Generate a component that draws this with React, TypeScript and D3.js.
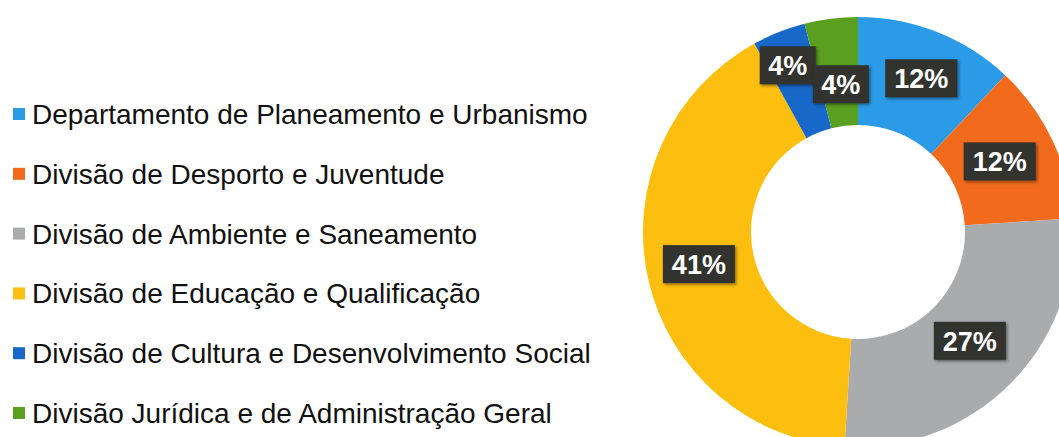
import React from "react";
import * as d3 from "d3";

const categories = [
  "Departamento de Planeamento e Urbanismo",
  "Divisão de Desporto e Juventude",
  "Divisão de Ambiente e Saneamento",
  "Divisão de Educação e Qualificação",
  "Divisão de Cultura e Desenvolvimento Social",
  "Divisão Jurídica e de Administração Geral",
];
const values = [12, 12, 27, 41, 4, 4];
const labels = ["12%", "12%", "27%", "41%", "4%", "4%"];
const colors = ["#2b9be8", "#f26b1d", "#a9abac", "#fdbf0f", "#1768c8", "#5b9f20"];
const labelNudge: [number, number][] = [[4, -4], [-4, -2], [-2, -5], [-2, -3], [-11, -17], [3, 12]];

export default function App() {
  const W = 1059, H = 437;
  const cx = 858, cy = 232, rOut = 215, rIn = 107;
  const pie = d3.pie<number>().sort(null).value((d) => d);
  const arcs = pie(values);
  const arc = d3.arc<d3.PieArcDatum<number>>().innerRadius(rIn).outerRadius(rOut);
  const mid = d3.arc<d3.PieArcDatum<number>>().innerRadius((rIn + rOut) / 2).outerRadius((rIn + rOut) / 2);
  const legendY = d3.scaleLinear().domain([0, categories.length - 1]).range([114, 413]);

  return (
    <svg width={W} height={H} style={{ position: "absolute", left: 0, top: 0, background: "#fff" }}
      fontFamily="'Liberation Sans', Arial, sans-serif">
      <defs>
        <filter id="sh" x="-30%" y="-30%" width="160%" height="160%">
          <feDropShadow dx="1.5" dy="1.5" stdDeviation="1.5" floodColor="#000" floodOpacity="0.45" />
        </filter>
      </defs>
      <g transform={`translate(${cx},${cy})`}>
        {arcs.map((a, i) => (
          <path key={i} d={arc(a) || ""} fill={colors[i]} />
        ))}
        {arcs.map((a, i) => {
          const [x0, y0] = mid.centroid(a);
          const x = x0 + labelNudge[i][0];
          const y = y0 + labelNudge[i][1];
          const w = labels[i].length === 3 ? 72 : 56;
          const h = 38;
          return (
            <g key={i} transform={`translate(${x},${y})`}>
              <rect x={-w / 2} y={-h / 2} width={w} height={h} fill="#31322e" filter="url(#sh)" />
              <text textAnchor="middle" dy="0.36em" fill="#fff" fontWeight="bold" fontSize={27}>{labels[i]}</text>
            </g>
          );
        })}
      </g>
      {categories.map((c, i) => (
        <g key={i} transform={`translate(0,${legendY(i)})`}>
          <rect x={13} y={-6} width={12} height={12} fill={colors[i]} />
          <text x={32} y={0} dy="0.36em" fontSize={28} fill="#111">{c}</text>
        </g>
      ))}
    </svg>
  );
}
